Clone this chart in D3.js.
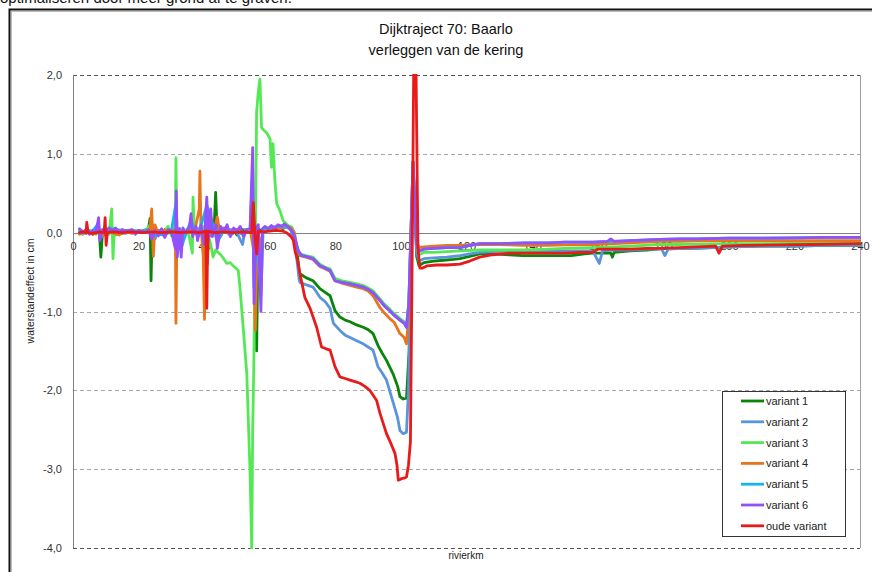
<!DOCTYPE html>
<html><head><meta charset="utf-8">
<script src="https://cdn.jsdelivr.net/npm/d3@7/dist/d3.min.js"></script>
<style>body{margin:0;background:#fff}svg{display:block}</style>
</head><body>
<svg id="c" width="872" height="572"></svg>
<script>
// ---------- DATA ----------
const xTicks = [0,20,40,60,80,100,120,140,160,180,200,220,240];
const yTicks = [-4,-3,-2,-1,0,1,2];
const seriesNames = ["variant 1","variant 2","variant 3","variant 4","variant 5","variant 6","oude variant"];

const variant1 = [[2,0],[3,0.02],[4,-0.01],[5,0.02],[6,-0.02],[7,0.01],[8,0.03],[8.5,-0.31],[9,0.02],[10,-0.03],[11,0.01],[13,0.02],[15,-0.01],[17,0.02],[19,0.0],[21,0.02],[23,0.05],[23.5,0.18],[23.8,-0.61],[24.2,0.1],[25,-0.05],[26,0.03],[27,-0.02],[28,0.04],[29,0.0],[31,0.03],[33,-0.02],[35,0.03],[37,0.0],[39,0.05],[40,-0.04],[41,0.06],[43,0.02],[43.5,0.51],[44,-0.05],[45,0.05],[47,0.02],[49,0.04],[50,-0.03],[51,0.05],[53,0.02],[54,0.04],[55,-0.05],[55.5,0.1],[56,-1.5],[56.5,0.05],[57,0.03],[59,0.05],[61,0.06],[63,0.07],[64,0.05],[65,0.08],[66,0.06],[67,0.02],[67.8,-0.1],[68.5,-0.3],[69,-0.5],[69.2,-0.52],[71,-0.57],[73.2,-0.61],[75.3,-0.71],[77,-0.76],[78.4,-0.80],[79.9,-0.99],[81.4,-1.07],[83,-1.11],[84.5,-1.13],[86.5,-1.17],[88.5,-1.20],[90,-1.23],[91.5,-1.28],[93,-1.43],[94.3,-1.53],[95.6,-1.62],[97.6,-1.79],[99,-1.95],[99.7,-2.08],[100.7,-2.11],[101.7,-2.10],[102.5,-1.5],[103.2,0.0],[103.7,0.6],[104.3,0.2],[104.8,-0.3],[105.5,-0.42],[107,-0.38],[110,-0.36],[113,-0.35],[116,-0.34],[118,-0.33],[121,-0.30],[124,-0.27],[128,-0.27],[133,-0.28],[137,-0.29],[142,-0.29],[147,-0.29],[152,-0.29],[156,-0.27],[158.5,-0.26],[160,-0.26],[164,-0.26],[164.5,-0.31],[165,-0.25],[170,-0.23],[175,-0.22],[180,-0.2],[185,-0.2],[189,-0.2],[195,-0.19],[200,-0.18],[210,-0.17],[220,-0.17],[230,-0.16],[240,-0.16]];

const variant2 = [[2,0.01],[3,-0.02],[4,0.02],[6,0.0],[8,0.03],[9,-0.05],[10,0.02],[12,0.0],[14,0.03],[16,-0.01],[18,0.02],[20,0.0],[22,0.03],[24,0.08],[25,-0.08],[26,0.03],[28,0.02],[30,0.04],[31.5,-0.15],[32,0.05],[34,0.0],[36,0.04],[38,-0.03],[40,0.06],[42,-0.04],[44,0.05],[46,0.02],[48,0.04],[50,0.0],[51.7,-0.15],[52.5,0.04],[54,0.03],[55,0.3],[55.5,-0.4],[56,0.05],[57,-0.2],[58,0.05],[60,0.05],[62,0.07],[64,0.06],[65.5,0.08],[66.5,0.03],[67.5,-0.1],[68.3,-0.35],[69,-0.6],[69.2,-0.63],[71,-0.66],[73.2,-0.69],[75.3,-0.82],[77,-0.88],[78.4,-0.96],[79.4,-1.15],[81.4,-1.24],[83,-1.30],[84.5,-1.33],[86.5,-1.37],[88.5,-1.41],[90,-1.45],[91.5,-1.49],[93,-1.70],[94.3,-1.78],[95.6,-1.87],[97.6,-2.15],[99,-2.35],[99.7,-2.51],[100.7,-2.55],[101.7,-2.53],[102.3,-2.0],[103,-0.5],[103.6,0.8],[104.3,0.3],[104.8,-0.25],[105.5,-0.36],[107,-0.33],[110,-0.32],[114,-0.31],[118,-0.29],[121,-0.27],[124,-0.25],[128,-0.24],[133,-0.23],[140,-0.23],[146,-0.23],[152,-0.23],[158.5,-0.23],[160.5,-0.39],[161.5,-0.23],[165,-0.22],[170,-0.22],[175,-0.21],[179.5,-0.21],[180.5,-0.29],[181.5,-0.21],[186,-0.2],[190,-0.2],[200,-0.18],[210,-0.17],[220,-0.17],[230,-0.16],[240,-0.16]];

const variant3 = [[2,0.02],[3,-0.01],[4,0.03],[5,0.0],[6,0.02],[7,-0.02],[8,0.04],[9,0.0],[10,0.02],[11,-0.02],[11.8,0.30],[12.2,-0.33],[12.6,0.05],[13,-0.03],[14,0.02],[16,0.0],[18,0.03],[20,0.01],[22,0.02],[23.5,0.10],[24,-0.05],[25,0.06],[26,-0.03],[28,0.03],[29,0.08],[30,-0.04],[31.2,0.2],[31.4,0.95],[31.7,-0.2],[32.5,0.05],[34,-0.06],[35,0.05],[36.4,-0.26],[36.6,0.45],[37,0.03],[38,0.06],[39,-0.03],[40,0.08],[41,0.0],[42,-0.15],[42.7,-0.31],[43.5,-0.22],[44.8,-0.27],[45.8,-0.32],[46.9,-0.39],[48,-0.38],[48.8,-0.42],[49.7,-0.45],[50.4,-0.48],[50.9,-0.69],[51.9,-1.2],[53,-1.79],[54,-3.05],[54.5,-4.0],[54.8,-2.5],[55.1,-1.79],[55.5,-0.5],[56,1.54],[56.5,1.78],[57,1.95],[57.5,1.33],[58.2,1.30],[59,1.27],[60.1,1.19],[60.5,0.83],[61,1.13],[61.5,0.70],[62.1,0.37],[63.1,0.28],[64.1,0.15],[65.6,0.09],[66.7,0.07],[67.5,0.0],[68.3,-0.2],[69.2,-0.27],[71,-0.29],[73.2,-0.31],[75.3,-0.40],[77,-0.44],[78.4,-0.46],[79.9,-0.58],[82,-0.61],[84.5,-0.63],[86.5,-0.65],[88.5,-0.67],[90,-0.70],[91.5,-0.74],[93.6,-0.84],[95,-0.91],[96.6,-0.97],[98,-1.03],[99.7,-1.09],[101,-1.13],[101.7,-1.17],[102.4,-0.9],[103.2,0.2],[103.7,0.9],[104.3,0.3],[104.8,-0.15],[105.5,-0.28],[107,-0.25],[110,-0.25],[114,-0.24],[118,-0.23],[124,-0.22],[130,-0.22],[138,-0.22],[145,-0.21],[150,-0.2],[158.5,-0.19],[165,-0.18],[170,-0.17],[179,-0.15],[185,-0.15],[190,-0.145],[200,-0.14],[210,-0.14],[220,-0.135],[230,-0.135],[240,-0.13]];

const variant4 = [[2,-0.02],[3,0.01],[4,-0.01],[5,0.02],[6,-0.02],[8,0.0],[9,-0.04],[10,0.02],[12,0.0],[14,-0.03],[16,0.02],[18,-0.01],[20,0.03],[22,0.0],[23.5,0.05],[24,0.30],[24.5,-0.3],[25,0.1],[26,-0.02],[28,0.03],[30,0.0],[31.2,0.05],[31.4,-1.15],[31.7,0.05],[33,0.02],[34,-0.03],[36,0.05],[37,0.0],[38.5,0.3],[38.7,0.78],[39,0.1],[39.7,-0.3],[40.1,-1.1],[40.6,0.25],[41,-0.4],[41.5,0.05],[43,0.0],[44,0.2],[45,-0.05],[46,0.06],[48,0.0],[50,0.04],[52,-0.02],[54,0.05],[55,-0.2],[55.6,-1.24],[56.2,0.0],[57,-0.3],[58,0.05],[60,0.04],[62,0.06],[64,0.07],[65.5,0.08],[66.7,0.05],[67.5,0.0],[68.3,-0.2],[69.2,-0.29],[71,-0.31],[73.2,-0.34],[75.3,-0.43],[77,-0.46],[78.4,-0.49],[79.9,-0.61],[82,-0.64],[84.5,-0.67],[86.5,-0.69],[88.5,-0.71],[90,-0.74],[91.5,-0.80],[93.6,-0.95],[95,-1.02],[96.6,-1.09],[98,-1.14],[99.7,-1.28],[101,-1.33],[101.7,-1.41],[102.4,-1.0],[103.2,0.2],[103.7,0.9],[104.3,0.3],[104.8,-0.1],[105.5,-0.19],[107,-0.18],[110,-0.17],[114,-0.16],[118,-0.16],[124,-0.15],[130,-0.15],[138,-0.16],[145,-0.16],[150,-0.155],[158.5,-0.15],[165,-0.14],[170,-0.13],[179,-0.11],[185,-0.11],[190,-0.105],[200,-0.10],[210,-0.10],[220,-0.10],[230,-0.10],[240,-0.10]];

const variant5 = [[2,0.04],[3,0.0],[4,0.03],[6,0.02],[7.8,0.12],[8.2,-0.06],[9,0.03],[11,0.05],[13,0.04],[15,0.03],[18,0.03],[20,0.02],[23,0.03],[24,-0.05],[26,-0.02],[28,-0.03],[30,0.02],[31.5,0.4],[31.8,-0.2],[33,-0.2],[34.5,0.0],[36,0.15],[38,-0.05],[39,0.08],[40.8,0.35],[42,0.2],[44,-0.12],[46,0.03],[48,-0.03],[50,0.02],[52,-0.03],[54,0.04],[54.8,0.8],[55.2,-0.7],[56,0.05],[57.3,-0.8],[58,0.05],[60,0.06],[62.5,0.08],[64.5,0.09],[66,0.05],[67.2,-0.01],[68.2,-0.15],[68.7,-0.23],[69.7,-0.29],[71,-0.30],[73.2,-0.33],[75.3,-0.42],[77,-0.45],[78.4,-0.48],[79.9,-0.61],[82,-0.63],[84.5,-0.65],[86.5,-0.67],[88.5,-0.69],[90,-0.72],[91.5,-0.76],[93.6,-0.86],[95,-0.93],[96.6,-0.99],[98,-1.05],[99.7,-1.11],[101,-1.15],[101.7,-1.20],[102.4,-0.9],[103.2,0.2],[103.7,0.9],[104.3,0.3],[104.8,-0.15],[105.5,-0.23],[107,-0.21],[110,-0.2],[114,-0.19],[118,-0.19],[121,-0.16],[124,-0.14],[130,-0.14],[138,-0.13],[145,-0.13],[150,-0.12],[158.5,-0.12],[165,-0.11],[170,-0.1],[179,-0.085],[185,-0.08],[190,-0.08],[200,-0.07],[210,-0.07],[220,-0.065],[230,-0.06],[240,-0.06]];

const variant6 = [[2,0.05],[3,0.0],[4,0.04],[5,-0.02],[6,0.03],[7,0.0],[7.8,0.19],[8.2,-0.1],[9,0.04],[10,0.0],[11,0.06],[12,0.02],[13,0.06],[14,0.0],[15,0.04],[16,0.02],[18,0.04],[19,-0.02],[20,0.03],[22,0.0],[23,0.04],[24,-0.08],[25,0.03],[26,-0.04],[27,0.05],[28,-0.06],[29,0.04],[30,0.02],[31.2,-0.2],[31.5,0.53],[31.8,-0.31],[32.5,0.05],[33,-0.31],[33.5,0.06],[34.5,0.0],[35.5,0.07],[36,0.24],[36.5,-0.05],[37.5,0.08],[38,-0.1],[39,0.1],[40,-0.15],[40.8,0.45],[41.3,-0.1],[42,0.3],[42.5,-0.05],[43.5,0.1],[44,-0.2],[45,0.08],[46,0.02],[47,0.1],[48,-0.05],[49,0.06],[50,0.02],[51,0.08],[52,-0.05],[53,0.04],[54,0.05],[54.8,1.08],[55.2,-0.9],[55.8,0.05],[56.5,0.1],[57.3,-1.0],[57.8,0.05],[58.5,0.08],[59.5,0.05],[60.5,0.09],[61.5,0.06],[62.5,0.1],[63.5,0.08],[64.5,0.11],[65.1,0.09],[66,0.06],[67.2,-0.01],[68.2,-0.15],[68.7,-0.23],[69.7,-0.29],[71,-0.30],[73.2,-0.33],[75.3,-0.42],[77,-0.45],[78.4,-0.48],[79.9,-0.61],[82,-0.63],[84.5,-0.65],[86.5,-0.67],[88.5,-0.69],[90,-0.72],[91.5,-0.76],[93.6,-0.86],[95,-0.93],[96.6,-0.99],[98,-1.05],[99.7,-1.11],[101,-1.15],[101.7,-1.20],[102.4,-0.9],[103.2,0.2],[103.7,0.9],[104.3,0.3],[104.8,-0.15],[105.5,-0.23],[107,-0.21],[110,-0.2],[114,-0.19],[118,-0.19],[121,-0.16],[124,-0.14],[130,-0.14],[138,-0.13],[145,-0.13],[150,-0.12],[158.5,-0.12],[163,-0.11],[164,-0.08],[165,-0.11],[170,-0.1],[179,-0.085],[185,-0.08],[190,-0.08],[200,-0.07],[210,-0.07],[220,-0.065],[230,-0.06],[240,-0.06]];

const oudeVariant = [[2,0.0],[3,0.01],[4,0.0],[4.2,0.13],[4.6,0.0],[6,-0.01],[8,0.01],[9.5,0.0],[9.8,0.19],[10.1,-0.16],[10.5,0.0],[12,0.01],[15,0.0],[18,0.01],[21,0.0],[24,0.01],[27,0.0],[30,0.01],[33,0.0],[36,0.01],[39,0.0],[40.5,0.02],[40.8,-0.96],[41.1,0.02],[43,0.0],[46,0.01],[49,0.0],[52,0.01],[54.5,0.0],[55,0.38],[55.5,-0.05],[56,-0.27],[56.5,0.02],[58,0.01],[60,0.02],[62,0.03],[64,0.02],[65.1,0.0],[66.5,-0.05],[67.2,-0.1],[67.7,-0.23],[68.5,-0.35],[69.2,-0.52],[70.7,-0.82],[72.3,-0.96],[74.3,-1.2],[75.8,-1.45],[77,-1.47],[78.4,-1.49],[79.9,-1.70],[81.4,-1.83],[83,-1.85],[84.5,-1.87],[86,-1.89],[87.5,-1.91],[89,-1.95],[90.5,-2.0],[92.6,-2.13],[93.6,-2.29],[94.6,-2.42],[95.6,-2.55],[97,-2.68],[98.2,-2.80],[98.8,-2.95],[99.2,-3.14],[100.2,-3.12],[101.2,-3.11],[101.7,-3.10],[102.3,-2.95],[102.9,-2.65],[103.5,0.0],[103.9,2.1],[104.6,2.1],[105.2,-0.2],[105.8,-0.45],[106.5,-0.45],[108,-0.42],[111,-0.41],[114,-0.41],[118,-0.40],[121,-0.36],[124,-0.31],[128,-0.28],[133,-0.26],[138,-0.26],[145,-0.26],[150,-0.26],[155,-0.25],[158.5,-0.25],[160,-0.21],[165,-0.21],[170,-0.21],[175,-0.2],[178,-0.2],[185,-0.19],[190,-0.18],[196,-0.17],[197,-0.26],[198,-0.17],[205,-0.16],[215,-0.155],[225,-0.15],[232,-0.145],[240,-0.14]];

const seriesValues = [variant1, variant2, variant3, variant4, variant5, variant6, oudeVariant];
const seriesColors = ["#0a840a","#5a94dc","#55e855","#e8741c","#14b4ee","#9450fa","#e81a1a"];

// ---------- DRAW ----------
const svg = d3.select("#c");
const FONT = "'Liberation Sans', Arial, sans-serif";
const L = 73, R = 860, T = 75, B = 548;
const x = d3.scaleLinear().domain([0,240]).range([L,R]);
const y = d3.scaleLinear().domain([-4,2]).range([B,T]);

// text cut off at the very top (as in the reference)
svg.append("text").attr("x",0).attr("y",3).attr("font-family",FONT).attr("font-size",15)
  .attr("fill","#111").text("optimaliseren door meer grond af te graven.");

// outer frame
svg.append("rect").attr("x",9.5).attr("y",9.5).attr("width",900).attr("height",600)
  .attr("fill","none").attr("stroke","#111").attr("stroke-width",2);
svg.append("rect").attr("x",11.5).attr("y",11.5).attr("width",900).attr("height",600)
  .attr("fill","none").attr("stroke","#bbb").attr("stroke-width",1);

// titles
svg.append("text").attr("x",446).attr("y",34).attr("text-anchor","middle")
  .attr("font-family",FONT).attr("font-size",14.5).attr("fill","#111").text("Dijktraject 70: Baarlo");
svg.append("text").attr("x",446).attr("y",55).attr("text-anchor","middle")
  .attr("font-family",FONT).attr("font-size",14.5).attr("fill","#111").text("verleggen van de kering");

// gridlines
svg.append("g").selectAll("line").data(yTicks.filter(v=>v!==0)).join("line")
  .attr("x1",L).attr("x2",R).attr("y1",d=>Math.round(y(d))+0.5).attr("y2",d=>Math.round(y(d))+0.5)
  .attr("stroke",d=>(d===2||d===-4)?"#555":"#a8a8a8").attr("stroke-width",1)
  .attr("stroke-dasharray","4,3");

// zero line, left axis line, right line
svg.append("line").attr("x1",L).attr("x2",R).attr("y1",Math.round(y(0))+0.5).attr("y2",Math.round(y(0))+0.5)
  .attr("stroke","#808080");
svg.append("line").attr("x1",L+0.5).attr("x2",L+0.5).attr("y1",T).attr("y2",B).attr("stroke","#808080");
svg.append("line").attr("x1",R+0.5).attr("x2",R+0.5).attr("y1",T).attr("y2",B).attr("stroke","#a0a0a0");

// y axis labels
const fmt = v => d3.format(".1f")(v).replace(".",",").replace("−","-");
const yAxis = svg.append("g").attr("transform",`translate(${L},0)`)
  .call(d3.axisLeft(y).tickValues(yTicks).tickSize(0).tickPadding(11).tickFormat(fmt));
yAxis.select(".domain").remove();
yAxis.selectAll("text").attr("font-family",FONT).attr("font-size",11).attr("fill","#333");

// x axis labels
const xAxis = svg.append("g").attr("transform",`translate(0,${y(0)})`)
  .call(d3.axisBottom(x).tickValues(xTicks).tickSize(0).tickPadding(9.5).tickFormat(d3.format("d")));
xAxis.select(".domain").remove();
xAxis.selectAll("text").attr("font-family",FONT).attr("font-size",11).attr("fill","#333");

// axis titles
svg.append("text").attr("transform","translate(34,291) rotate(-90)").attr("text-anchor","middle")
  .attr("font-family",FONT).attr("font-size",10.5).attr("fill","#222").text("waterstandeffect in cm");
svg.append("text").attr("x",466).attr("y",559).attr("text-anchor","middle")
  .attr("font-family",FONT).attr("font-size",10).attr("fill","#222").text("rivierkm");

// lines
svg.append("clipPath").attr("id","clip").append("rect")
  .attr("x",L).attr("y",T-1).attr("width",R-L+1).attr("height",B-T+2);
const line = d3.line().x(d=>x(d[0])).y(d=>y(d[1]));
const gl = svg.append("g").attr("clip-path","url(#clip)");
seriesValues.forEach((s,i)=>{
  gl.append("path").attr("d",line(s)).attr("fill","none")
    .attr("stroke",seriesColors[i]).attr("stroke-width",2.8)
    .attr("stroke-linejoin","round").attr("stroke-linecap","round");
});

// legend
const lg = svg.append("g");
lg.append("rect").attr("x",722.5).attr("y",391.5).attr("width",123).attr("height",145)
  .attr("fill","#fff").attr("stroke","#333").attr("stroke-width",1);
seriesNames.forEach((n,i)=>{
  const yy = 401 + i*20.8;
  lg.append("line").attr("x1",741).attr("x2",764).attr("y1",yy).attr("y2",yy)
    .attr("stroke",seriesColors[i]).attr("stroke-width",2.8);
  lg.append("text").attr("x",766).attr("y",yy+4).attr("font-family",FONT).attr("font-size",11)
    .attr("fill","#222").text(n);
});
</script>
</body></html>
